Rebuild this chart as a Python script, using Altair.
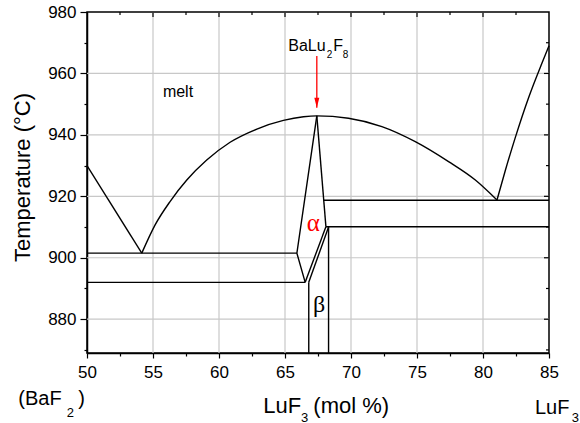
import altair as alt
import pandas as pd

# ---- phase boundaries: composition (mol % LuF3) and temperature (°C) ----
liq_left_x = [50.0, 54.15]
liq_left_y = [930.0, 901.5]

dome_x = [54.15, 55.16, 56.29, 57.56, 59.07, 60.84, 62.87, 64.88, 66.4, 67.41,
          69.81, 72.34, 74.87, 77.39, 79.42, 81.06]
dome_y = [901.5, 910.7, 918.3, 925.3, 931.8, 937.6, 941.9, 944.7, 945.9, 946.2,
          945.4, 942.7, 937.8, 931.3, 925.3, 918.8]

liq_right_x = [81.06, 81.69, 82.45, 83.46, 84.47, 85.0]
liq_right_y = [918.8, 928.4, 939.2, 952.2, 963.4, 969.0]

eutectic_x = [50.0, 65.9]
eutectic_y = [901.5, 901.5]

alpha_left_x = [67.41, 65.9, 66.53]
alpha_left_y = [946.2, 901.5, 892.0]

alpha_right_x = [67.41, 68.1]
alpha_right_y = [946.2, 910.1]

low_line_x = [50.0, 66.53]
low_line_y = [892.0, 892.0]

slope_a_x = [66.53, 68.1]
slope_a_y = [892.0, 910.1]

slope_b_x = [66.8, 68.3]
slope_b_y = [892.0, 910.0]

line_910_x = [68.1, 85.0]
line_910_y = [910.1, 910.1]

line_918_x = [67.94, 85.0]
line_918_y = [918.7, 918.7]

beta_left_x = [66.8, 66.8]
beta_left_y = [892.0, 869.0]

beta_right_x = [68.3, 68.3]
beta_right_y = [910.0, 869.0]

arrow_x = [67.41]
arrow_top = [965.7]
arrow_tip = [948.8]

x_major = [50, 55, 60, 65, 70, 75, 80, 85]
x_all = [50, 52.5, 55, 57.5, 60, 62.5, 65, 67.5, 70, 72.5, 75, 77.5, 80, 82.5, 85]
y_major = [880, 900, 920, 940, 960, 980]
y_all = [870, 880, 890, 900, 910, 920, 930, 940, 950, 960, 970, 980]

SANS = "Liberation Sans"
SERIF = "Liberation Serif"
W, H = 462, 341
GRID = "#c8c8c8"


def frame(name, xs, ys):
    return pd.DataFrame({"x": xs, "y": ys, "seg": name, "i": range(len(xs))})


curves = pd.concat([
    frame("liq_left", liq_left_x, liq_left_y),
    frame("dome", dome_x, dome_y),
    frame("liq_right", liq_right_x, liq_right_y),
])
straight = pd.concat([
    frame("eutectic", eutectic_x, eutectic_y),
    frame("alpha_left", alpha_left_x, alpha_left_y),
    frame("alpha_right", alpha_right_x, alpha_right_y),
    frame("low", low_line_x, low_line_y),
    frame("slope_a", slope_a_x, slope_a_y),
    frame("slope_b", slope_b_x, slope_b_y),
    frame("l910", line_910_x, line_910_y),
    frame("l918", line_918_x, line_918_y),
    frame("beta_l", beta_left_x, beta_left_y),
    frame("beta_r", beta_right_x, beta_right_y),
])

x_scale = alt.Scale(domain=[50, 85], nice=False, zero=False)
y_scale = alt.Scale(domain=[869, 980], nice=False, zero=False)

x_axis = alt.Axis(
    values=x_all,
    labelExpr="datum.value % 5 === 0 ? datum.label : ''",
    tickSize={"condition": {"test": "datum.value % 5 !== 0", "value": 3}, "value": 5},
    grid=False, labelPadding=6, labelFlush=False, labelOverlap=False, title=None,
)
y_axis = alt.Axis(
    values=y_all,
    labelExpr="datum.value % 20 === 0 ? datum.label : ''",
    tickSize={"condition": {"test": "datum.value % 20 !== 0", "value": 3}, "value": 7},
    grid=False, labelPadding=4, labelFlush=False, labelOverlap=False, title=None,
)

X = alt.X("x:Q", scale=x_scale, axis=x_axis, title=None)
Y = alt.Y("y:Q", scale=y_scale, axis=y_axis, title=None)

# light grid at the major ticks inside the frame
grid_v = alt.Chart(pd.DataFrame({"x": x_major[1:-1]})).mark_rule(
    color=GRID, strokeWidth=1.2).encode(x=X, y=alt.value(0), y2=alt.value(H))
grid_h = alt.Chart(pd.DataFrame({"y": y_major[:-1]})).mark_rule(
    color=GRID, strokeWidth=1.2).encode(y=Y, x=alt.value(0), x2=alt.value(W))

curve_layer = alt.Chart(curves).mark_line(
    color="black", strokeWidth=1.4, interpolate="monotone"
).encode(x=X, y=Y, detail="seg:N", order="i:Q")

straight_layer = alt.Chart(straight).mark_line(
    color="black", strokeWidth=1.4
).encode(x=X, y=Y, detail="seg:N", order="i:Q")

# inward ticks on the top and right edges
x_minor = [v for v in x_all if v % 5 != 0]
y_minor = [v for v in y_all if v % 20 != 0]
top_major = alt.Chart(pd.DataFrame({"x": x_major[1:-1]})).mark_rule(
    color="black", strokeWidth=1.2).encode(x=X, y=alt.value(0), y2=alt.value(5))
top_minor = alt.Chart(pd.DataFrame({"x": x_minor})).mark_rule(
    color="black", strokeWidth=1.2).encode(x=X, y=alt.value(0), y2=alt.value(3))
right_major = alt.Chart(pd.DataFrame({"y": y_major[:-1]})).mark_rule(
    color="black", strokeWidth=1.2).encode(y=Y, x=alt.value(W - 5), x2=alt.value(W))
right_minor = alt.Chart(pd.DataFrame({"y": y_minor})).mark_rule(
    color="black", strokeWidth=1.2).encode(y=Y, x=alt.value(W - 3), x2=alt.value(W))

# red arrow pointing at the congruent melting point
arrow_df = pd.DataFrame({"x": arrow_x, "y": arrow_top, "y2": arrow_tip})
arrow_shaft = alt.Chart(arrow_df).mark_rule(color="red", strokeWidth=1.3).encode(
    x=X, y=Y, y2="y2:Q")
arrow_head = alt.Chart(pd.DataFrame({"x": arrow_x, "y": arrow_tip})).mark_point(
    shape="M-0.5,-2L0.5,-2L0,0Z", filled=True, size=100, color="red", opacity=1
).encode(x=X, y=Y)

one = pd.DataFrame({"n": [0]})


def label(text, px, py, size, align="left", baseline="alphabetic",
          color="black", font=SANS, angle=None):
    kw = dict(text=text, align=align, baseline=baseline, fontSize=size,
              font=font, color=color)
    if angle is not None:
        kw["angle"] = angle
    return alt.Chart(one).mark_text(**kw).encode(x=alt.value(px), y=alt.value(py))


labels = [
    label("melt", 91, 80, 16, align="center", baseline="middle"),
    label("BaLu", 201.3, 39, 16),
    label("2", 239.7, 46, 10),
    label("F", 246.3, 39, 16),
    label("8", 255.7, 46, 10),
    label("α", 226.3, 211, 25, align="center", baseline="middle", color="red", font=SERIF),
    label("β", 232.2, 293, 24, align="center", baseline="middle", font=SERIF),
    label("Temperature (°C)", -63.7, 165.5, 22, align="center", baseline="middle", angle=270),
    label("(BaF", -68.7, 393, 20),
    label("2", -20.3, 404.7, 13),
    label(")", -8.7, 393, 20),
    label("LuF", 176.3, 401.3, 22),
    label("3", 214, 409.5, 13),
    label("(mol %)", 226.3, 401.3, 22),
    label("LuF", 448, 402, 20),
    label("3", 484.7, 409.5, 13),
]

chart = alt.layer(
    grid_v, grid_h, curve_layer, straight_layer, top_major, top_minor,
    right_major, right_minor, arrow_shaft, arrow_head, *labels
).properties(
    width=W, height=H,
    autosize=alt.AutoSizeParams(type="none"),
    padding={"left": 87, "top": 12, "right": 31, "bottom": 70},
    background="white",
).configure_view(
    stroke="black", strokeWidth=1.5
).configure_axis(
    labelFont=SANS, labelFontSize=17, labelColor="black",
    tickColor="black", tickWidth=1.2,
    domainColor="black", domainWidth=1.5,
)

chart.save("out.html", embed_options={"renderer": "svg", "actions": False})
